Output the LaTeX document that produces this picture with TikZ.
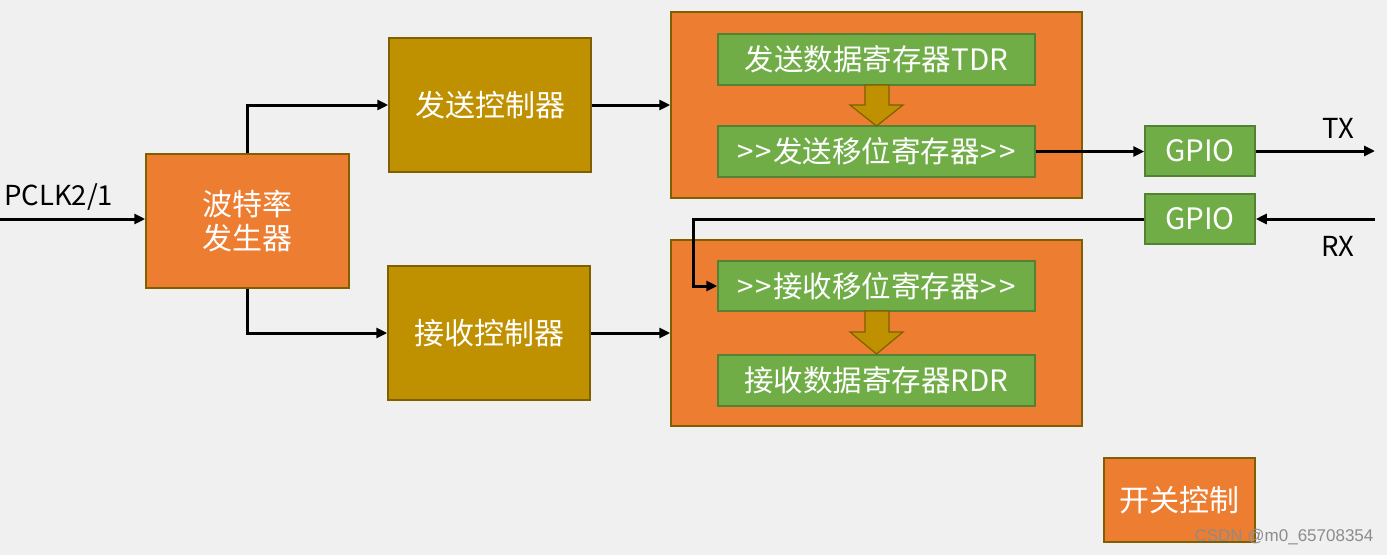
\documentclass[tikz,border=0pt]{standalone}
\usepackage{fontspec}
\setmainfont{Noto Sans CJK SC}
\newfontfamily\wmfont{Liberation Sans}
\usetikzlibrary{arrows.meta}
\definecolor{bg}{HTML}{F0F0F0}
\definecolor{orng}{HTML}{ED7D31}
\definecolor{gold}{HTML}{BF9000}
\definecolor{olive}{HTML}{7F6000}
\definecolor{grn}{HTML}{70AD47}
\definecolor{grnb}{HTML}{548235}
\newcommand{\gtgt}{\kern1pt>\kern2pt>\kern1pt}
\begin{document}
\begin{tikzpicture}[x=1pt,y=-1pt,
  blk/.style={draw=olive, line width=1.5pt, inner sep=0pt, text=white, align=center,
    font=\fontsize{30}{34}\selectfont},
  orbox/.style={blk, fill=orng},
  gdbox/.style={blk, fill=gold},
  grbox/.style={draw=grnb, line width=1.5pt, fill=grn, inner sep=0pt, text=white,
    font=\fontsize{29.5}{33}\selectfont},
  arr/.style={line width=3pt, -{Triangle[length=11pt,width=10pt]}},
  lbl/.style={text=black, inner sep=0pt, font=\fontsize{27.5}{32}\selectfont},
  barrow/.style={fill=gold, draw=olive, line width=1.2pt, line join=miter}
]
\fill[bg] (0,0) rectangle (1387,555);
\useasboundingbox (0,0) rectangle (1387,555);

% main boxes
\node[orbox, minimum width=203pt, minimum height=134pt] (baud) at (247.5,221) {波特率\\发生器};
\node[gdbox, minimum width=202pt, minimum height=134pt] (txc) at (490,105) {发送控制器};
\node[gdbox, minimum width=202pt, minimum height=134pt] (rxc) at (489,333) {接收控制器};

\node[orbox, minimum width=411pt, minimum height=186pt] (txbox) at (876.5,105) {};
\node[orbox, minimum width=411pt, minimum height=186pt] (rxbox) at (876.5,333) {};

\node[grbox, minimum width=317pt, minimum height=51pt] (tdr) at (876.5,59.5) {发送数据寄存器TDR};
\node[grbox, minimum width=317pt, minimum height=51pt] (txs) at (876.5,151.5) {\gtgt 发送移位寄存器\gtgt};
\node[grbox, minimum width=317pt, minimum height=50pt] (rxs) at (876.5,286) {\gtgt 接收移位寄存器\gtgt};
\node[grbox, minimum width=317pt, minimum height=51pt] (rdr) at (876.5,380.5) {接收数据寄存器RDR};

\node[grbox, minimum width=110pt, minimum height=50pt] (gtx) at (1200,151) {GPIO};
\node[grbox, minimum width=110pt, minimum height=50pt] (grx) at (1200,219) {GPIO};

\node[orbox, minimum width=151pt, minimum height=84pt] (sw) at (1179.5,500) {开关控制};

% block arrows
\draw[barrow] (865,85) -- (889,85) -- (889,105) -- (903,105) -- (876.5,126) -- (850,105) -- (865,105) -- cycle;
\draw[barrow] (865,311) -- (889,311) -- (889,332) -- (903,332) -- (876.5,354) -- (850,332) -- (865,332) -- cycle;

% labels
\node[lbl, anchor=west] (pclk) at (4,197) {PCLK2/1};
\node[lbl] (txl) at (1338,128) {TX};
\node[lbl] (rxl) at (1338,246) {RX};

% connectors
\coordinate (pin) at (0,219);
\coordinate (txout) at (1375,151);
\coordinate (rxin) at (1375,219);
\coordinate (bend) at (693,219);
\draw[arr] (pin) -- (pin -| baud.west);
\draw[arr] (baud.north) |- (txc.west);
\draw[arr] (baud.south) |- (rxc.west);
\draw[arr] (txc.east) -- (txc.east -| txbox.west);
\draw[arr] (rxc.east) -- (rxc.east -| rxbox.west);
\draw[arr] (txs.east) -- (txs.east -| gtx.west);
\draw[arr] (gtx.east) -- (txout);
\draw[arr] (rxin) -- (grx.east);
\draw[arr] (grx.west) -- (bend) |- (rxs.west);

% watermark
\node[text=black!45, inner sep=0pt, font=\wmfont\fontsize{17}{19}\selectfont] (wm) at (1284,537) {CSDN @m0\_65708354};
\end{tikzpicture}
\end{document}
